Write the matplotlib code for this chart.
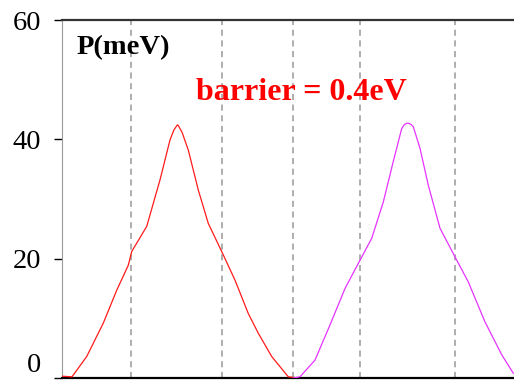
import matplotlib.pyplot as plt

plt.rcParams['font.family'] = ['Liberation Serif', 'DejaVu Serif']

# curve (x in arbitrary position units)
x_red = [0.00, 0.10, 0.247, 0.413, 0.547, 0.663, 0.697, 0.847, 0.98, 1.08, 1.12, 1.153,
         1.16, 1.20, 1.263, 1.363, 1.463, 1.597, 1.73, 1.863, 1.963, 2.097, 2.263, 2.313]
p_red = [0.3, 0.2, 3.6, 9.2, 14.7, 18.9, 21.2, 25.4, 33.2, 39.9, 41.6, 42.4,
         42.4, 41.2, 38.2, 31.5, 25.9, 21.2, 16.4, 10.8, 7.5, 3.6, 0.2, 0.1]

x_mag = [2.313, 2.38, 2.53, 2.68, 2.83, 2.963, 3.097, 3.213, 3.313, 3.397, 3.42, 3.447,
         3.463, 3.49, 3.513, 3.58, 3.663, 3.78, 3.93, 4.063, 4.23, 4.397, 4.513]
p_mag = [0.0, 0.2, 3.0, 8.9, 15.0, 19.2, 23.4, 29.5, 36.3, 41.8, 42.4, 42.7,
         42.7, 42.5, 42.1, 38.5, 32.3, 25.1, 20.3, 16.1, 9.4, 3.9, 0.8]

boundaries = [0.69, 1.60, 2.31, 2.98, 3.93]

fig = plt.figure(figsize=(5.14, 3.81), dpi=100)
ax = fig.add_axes([62 / 514, 3 / 381, 452 / 514, 358 / 381])

for b in boundaries:
    ax.axvline(b, color='#999999', linestyle=(0, (4, 3)), linewidth=1.1, zorder=1)

ax.plot(x_red, p_red, color='#ff1a1a', linewidth=0.9, zorder=3)
ax.plot(x_mag, p_mag, color='#e633ff', linewidth=0.9, zorder=3)

ax.set_xlim(0, 4.52)
ax.set_ylim(0, 60)
ax.set_yticks([0, 20, 40, 60])
ax.set_xticks([])
ax.tick_params(axis='y', labelsize=20.5, length=6, width=1, pad=9)
ax.get_yticklabels()[0].set_verticalalignment('bottom')

ax.spines['right'].set_visible(False)
ax.spines['left'].set_color('#999999')
ax.spines['left'].set_linewidth(0.8)
ax.spines['top'].set_color('#333333')
ax.spines['top'].set_linewidth(1.6)
ax.spines['bottom'].set_color('black')
ax.spines['bottom'].set_linewidth(1.6)

ax.text(0.033, 0.905, 'P(meV)', transform=ax.transAxes, fontsize=20.5,
        fontweight='bold', va='baseline', ha='left')
ax.text(0.296, 0.777, 'barrier = 0.4eV', transform=ax.transAxes, fontsize=23,
        fontweight='bold', color='red', va='baseline', ha='left')

fig.savefig('out.png', dpi=100)
